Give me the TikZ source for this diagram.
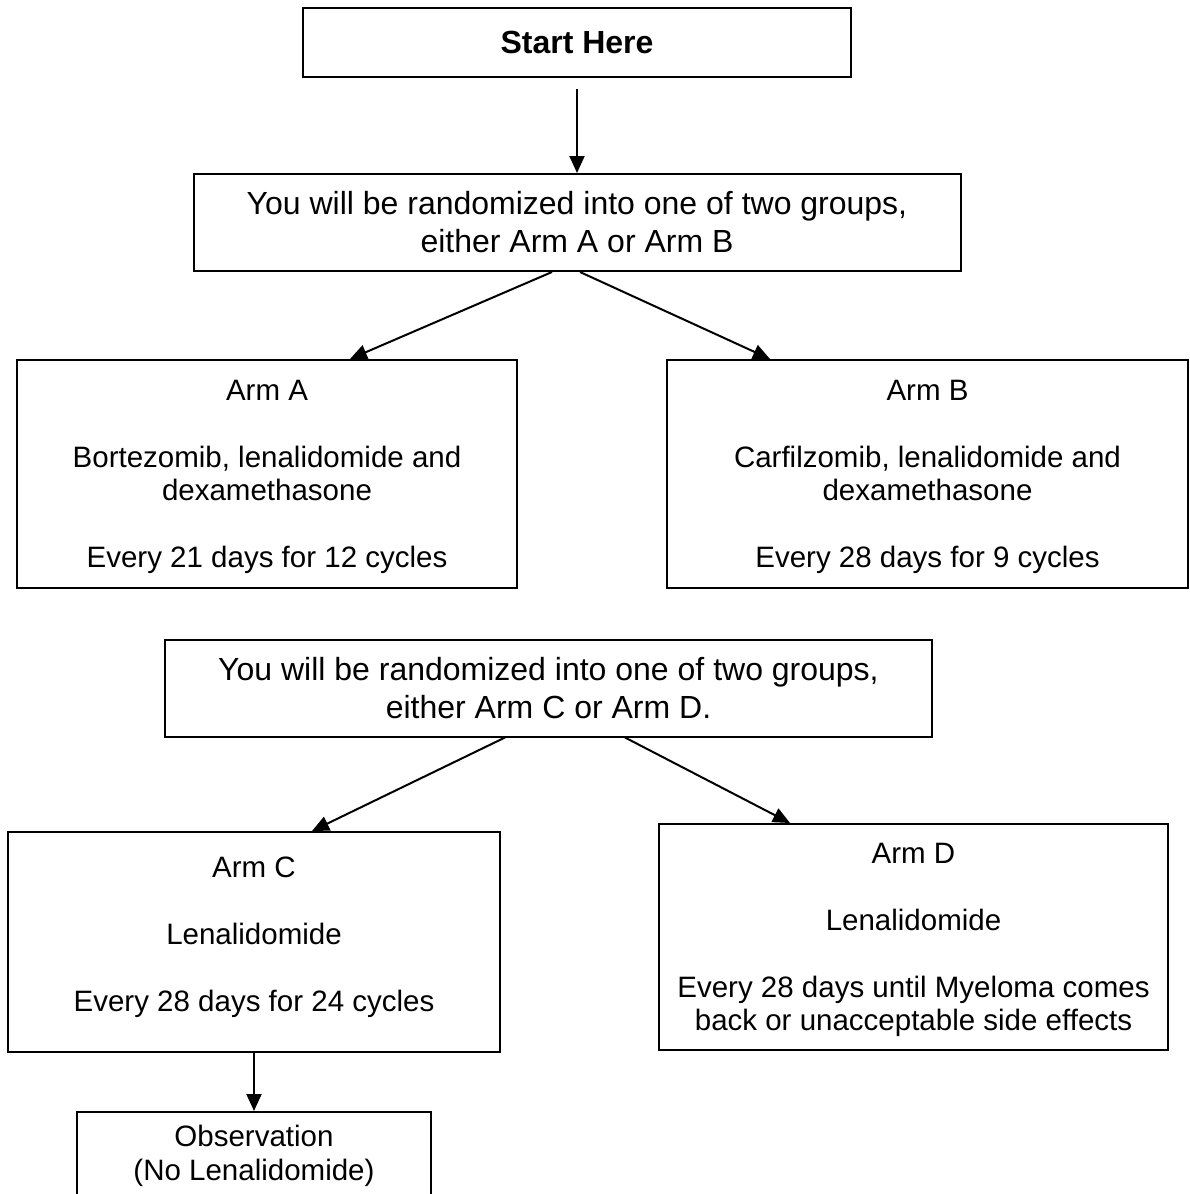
\documentclass[tikz,border=0pt]{standalone}
\usepackage{fontspec}
\setmainfont{Liberation Sans}
\usetikzlibrary{positioning, arrows.meta}

\begin{document}
\begin{tikzpicture}[
    x=1pt, y=-1pt,
    % Styles
    box/.style={ % Plain rectangle with centred text
        draw,
        line width=2pt,
        align=center,
        inner sep=0pt,
        font=\fontsize{29.5}{33.5}\selectfont
    },
    randbox/.style={ % Randomisation step
        box,
        minimum width=767pt,
        minimum height=97pt,
        font=\fontsize{32}{38}\selectfont
    },
    arrow/.style={
        -{Triangle[length=17pt, width=15pt]},
        line width=2pt
    }
]
    \useasboundingbox (0,0) rectangle (1189,1194);

    % First randomisation
    \node[box, minimum width=548pt, minimum height=69pt, font=\fontsize{32}{38}\selectfont\bfseries] (start) at (577,42.5) {Start Here};
    \node[randbox] (rand1) [below=95pt of start] {You will be randomized into one of two groups,\\either Arm A or Arm B};
    \node[box, minimum width=500pt, minimum height=228pt, text depth=0pt] (armA) at (267,474) {Arm A\\[33.5pt]Bortezomib, lenalidomide and\\dexamethasone\\[33.5pt]Every 21 days for 12 cycles};
    \node[box, minimum width=521pt, minimum height=228pt, text depth=0pt] (armB) at (927.5,474) {Arm B\\[33.5pt]Carfilzomib, lenalidomide and\\dexamethasone\\[33.5pt]Every 28 days for 9 cycles};

    % Second randomisation
    \node[randbox] (rand2) at (548.5,688) {You will be randomized into one of two groups,\\either Arm C or Arm D.};
    \node[box, minimum width=492pt, minimum height=220pt, text depth=16pt] (armC) at (254,942) {Arm C\\[33.5pt]Lenalidomide\\[33.5pt]Every 28 days for 24 cycles};
    \node[box, minimum width=509pt, minimum height=226pt, text depth=0pt] (armD) at (913.5,937) {Arm D\\[33.5pt]Lenalidomide\\[33.5pt]Every 28 days until Myeloma comes\\back or unacceptable side effects};
    \node[box, minimum width=354pt, minimum height=88pt] (obs) [below=58pt of armC] {Observation\\(No Lenalidomide)};

    % Connectors
    \draw[arrow, shorten <=11pt] (start.south) -- (rand1.north);
    \draw[arrow] ([xshift=-25pt]rand1.south) -- ([xshift=83pt]armA.north);
    \draw[arrow] ([xshift=3pt]rand1.south) -- ([xshift=-157.5pt]armB.north);
    \draw[arrow] ([xshift=-43.5pt]rand2.south) -- ([xshift=58pt]armC.north);
    \draw[arrow] ([xshift=76.5pt]rand2.south) -- ([xshift=-123.5pt]armD.north);
    \draw[arrow] (armC.south) -- (obs.north);
\end{tikzpicture}
\end{document}
